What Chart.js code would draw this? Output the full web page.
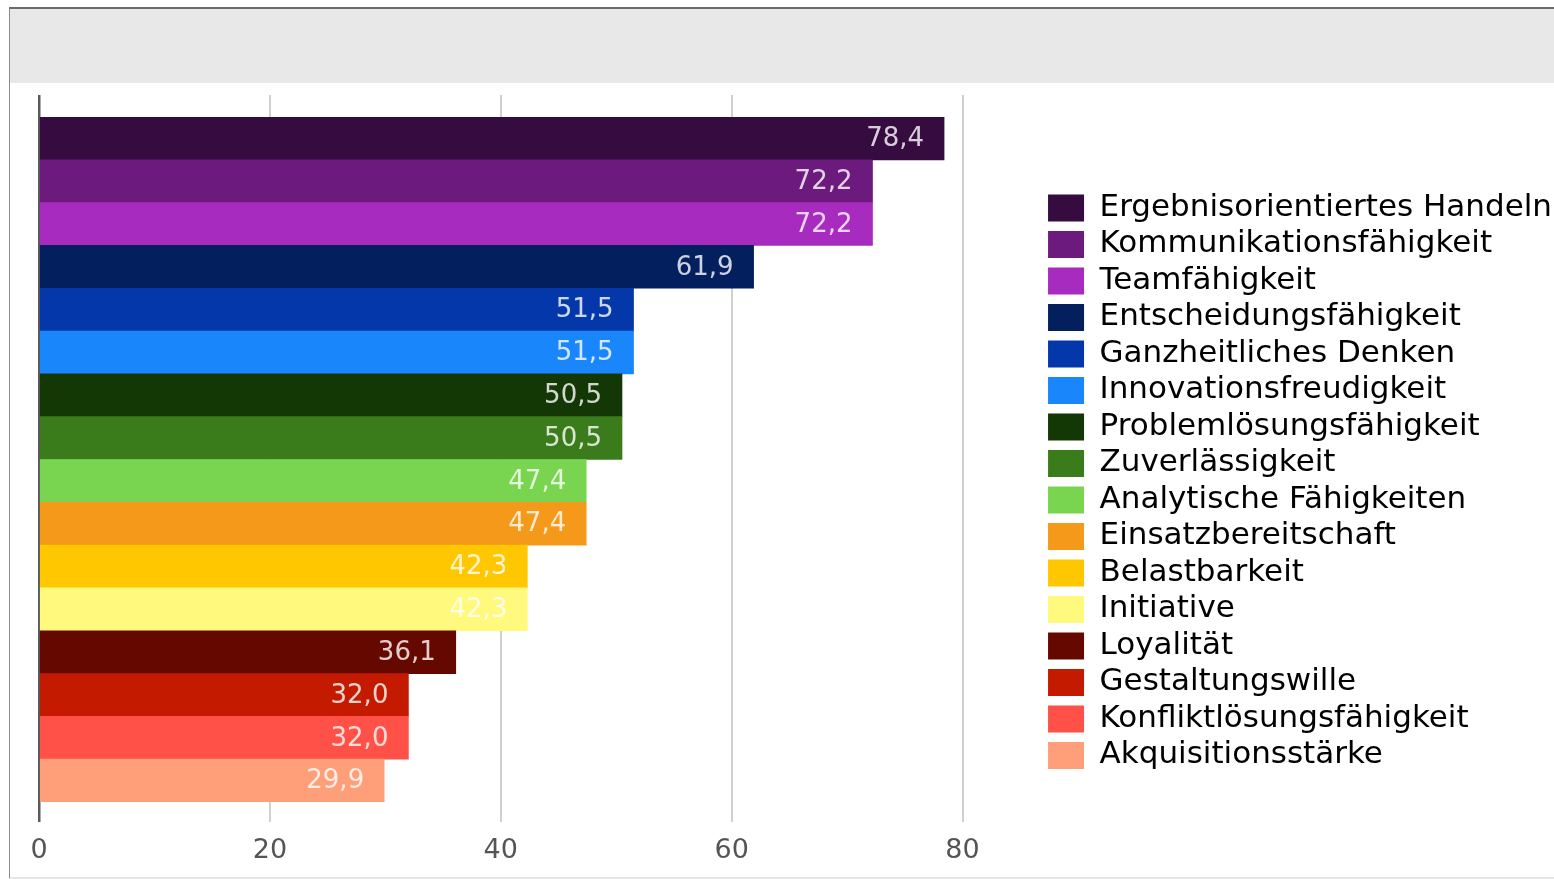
<!DOCTYPE html>
<html>
<head>
<meta charset="utf-8">
<script src="https://cdn.jsdelivr.net/npm/chart.js@4.4.1/dist/chart.umd.min.js"></script>
<style>
  html, body { margin: 0; padding: 0; background: #ffffff; }
  body { width: 1554px; height: 879px; overflow: hidden; position: relative; }
  #frame { position: absolute; left: 9px; top: 7px; width: 1600px; height: 868px;
           border-top: 2px solid #6b6b6b; border-left: 1px solid #8c8c8c; border-bottom: 2px solid #e6e6e6; }
  #header { position: absolute; left: 10px; top: 9px; width: 1600px; height: 74px; background: #e8e8e8; }
  #wrap { position: absolute; left: 11px; top: 84px; width: 1552px; height: 792px; }
</style>
</head>
<body>
<div id="frame"></div>
<div id="header"></div>
<div id="wrap"><canvas id="c"></canvas></div>
<script>
const categories = [
  'Ergebnisorientiertes Handeln',
  'Kommunikationsfähigkeit',
  'Teamfähigkeit',
  'Entscheidungsfähigkeit',
  'Ganzheitliches Denken',
  'Innovationsfreudigkeit',
  'Problemlösungsfähigkeit',
  'Zuverlässigkeit',
  'Analytische Fähigkeiten',
  'Einsatzbereitschaft',
  'Belastbarkeit',
  'Initiative',
  'Loyalität',
  'Gestaltungswille',
  'Konfliktlösungsfähigkeit',
  'Akquisitionsstärke'
];
const values = [78.4, 72.2, 72.2, 61.9, 51.5, 51.5, 50.5, 50.5, 47.4, 47.4, 42.3, 42.3, 36.1, 32.0, 32.0, 29.9];
const barColors = [
  '#350b40', '#6d1a7e', '#a82bbf', '#031f5e', '#0438aa', '#1a86fc',
  '#143706', '#3a7c1b', '#79d44f', '#f5991a', '#ffc700', '#fff97e',
  '#650800', '#c41a00', '#ff5147', '#ff9f7a'
];
const xTickValues = [0, 20, 40, 60, 80];

const FONT = 'DejaVu Sans';
const gridColor = (ctx) => (ctx.tick && ctx.tick.value === 0) ? '#5a5a5a' : '#d0d0d0';
const gridWidth = (ctx) => (ctx.tick && ctx.tick.value === 0) ? 2.5 : 2;

const valueLabels = {
  id: 'valueLabels',
  afterDatasetsDraw(chart) {
    const ctx = chart.ctx;
    const meta = chart.getDatasetMeta(0);
    ctx.save();
    ctx.font = '26px "' + FONT + '"';
    ctx.textAlign = 'right';
    ctx.textBaseline = 'middle';
    ctx.fillStyle = 'rgba(255,255,255,0.8)';
    meta.data.forEach((bar, i) => {
      const txt = values[i].toFixed(1).replace('.', ',');
      ctx.fillText(txt, bar.x - 20, bar.y + 1);
    });
    ctx.restore();
  }
};

new Chart(document.getElementById('c'), {
  type: 'bar',
  data: {
    labels: categories,
    datasets: [{
      data: values,
      backgroundColor: barColors,
      borderWidth: 0,
      barPercentage: 1,
      categoryPercentage: 1
    }]
  },
  options: {
    indexAxis: 'y',
    responsive: true,
    maintainAspectRatio: false,
    animation: false,
    layout: { padding: { left: 28, top: 11, bottom: 7.6, right: 1 } },
    scales: {
      x: {
        type: 'linear',
        position: 'bottom',
        min: xTickValues[0],
        max: xTickValues[xTickValues.length - 1],
        afterBuildTicks: (s) => { s.ticks = xTickValues.map(v => ({ value: v })); },
        afterFit: (s) => { s.height = 66.4; },
        border: { display: false },
        grid: { color: gridColor, lineWidth: gridWidth, tickLength: 20, drawTicks: true },
        ticks: { font: { family: FONT, size: 27 }, color: '#555555', padding: 13 }
      },
      x2: {
        type: 'linear',
        position: 'top',
        min: xTickValues[0],
        max: xTickValues[xTickValues.length - 1],
        afterBuildTicks: (s) => { s.ticks = xTickValues.map(v => ({ value: v })); },
        border: { display: false },
        grid: { color: gridColor, lineWidth: gridWidth, tickLength: 22, drawTicks: true, drawOnChartArea: false },
        ticks: { display: false }
      },
      y: {
        type: 'category',
        display: false
      },
      y2: {
        type: 'category',
        position: 'right',
        display: false,
        afterFit: (s) => { s.width = 80; }
      }
    },
    plugins: {
      tooltip: { enabled: false },
      legend: {
        position: 'right',
        labels: {
          boxWidth: 36,
          boxHeight: 27,
          padding: 5.5,
          color: '#454545',
          font: { family: FONT, size: 31 },
          generateLabels: (chart) => chart.data.labels.map((lab, i) => ({
            text: lab,
            fillStyle: barColors[i],
            strokeStyle: barColors[i],
            lineWidth: 0,
            hidden: false,
            index: i,
            datasetIndex: 0
          }))
        }
      }
    }
  },
  plugins: [valueLabels]
});
</script>
</body>
</html>
